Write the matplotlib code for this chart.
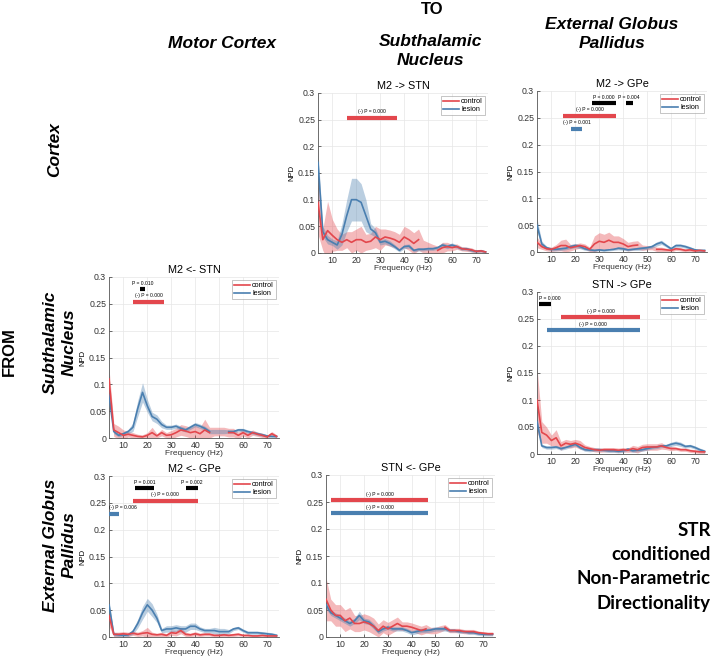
import numpy as np
import matplotlib
matplotlib.use("Agg")
import matplotlib.pyplot as plt

# ---------------- data ----------------
freq = [4, 6, 8, 10, 12, 14, 16, 18, 20, 22, 24, 26, 28, 30, 32, 34, 36, 38,
        40, 42, 44, 46, 48, 50, 52, 54, 56, 58, 60, 62, 64, 66, 68, 70, 72, 74]
notch = [48, 50, 52]

# M2 -> STN
m2_stn_ctrl = [0.095, 0.025, 0.042, 0.033, 0.025, 0.020, 0.025, 0.020, 0.025, 0.025, 0.020, 0.022,
               0.030, 0.025, 0.030, 0.028, 0.025, 0.020, 0.030, 0.025, 0.018, 0.025, 0.012, 0.010,
               0.008, 0.005, 0.010, 0.012, 0.010, 0.012, 0.008, 0.007, 0.006, 0.003, 0.004, 0.002]
m2_stn_ctrl_sem = [0.060, 0.020, 0.055, 0.030, 0.020, 0.015, 0.015, 0.020, 0.020, 0.025, 0.015, 0.015,
                   0.020, 0.020, 0.015, 0.015, 0.015, 0.015, 0.020, 0.020, 0.020, 0.020, 0.012, 0.010,
                   0.008, 0.008, 0.010, 0.008, 0.006, 0.005, 0.004, 0.004, 0.004, 0.003, 0.003, 0.002]
m2_stn_les = [0.170, 0.040, 0.025, 0.020, 0.015, 0.035, 0.070, 0.100, 0.100, 0.095, 0.070, 0.045,
              0.038, 0.020, 0.022, 0.018, 0.012, 0.005, 0.012, 0.013, 0.005, 0.007, 0.007, 0.008,
              0.008, 0.010, 0.015, 0.012, 0.015, 0.012, 0.008, 0.008, 0.005, 0.003, 0.004, 0.002]
m2_stn_les_sem = [0.020, 0.010, 0.008, 0.006, 0.008, 0.020, 0.030, 0.040, 0.040, 0.035, 0.030, 0.010,
                  0.008, 0.005, 0.005, 0.005, 0.004, 0.003, 0.004, 0.004, 0.003, 0.003, 0.003, 0.003,
                  0.003, 0.003, 0.004, 0.004, 0.004, 0.003, 0.003, 0.003, 0.003, 0.002, 0.002, 0.002]

# M2 -> GPe
m2_gpe_ctrl = [0.018, 0.010, 0.006, 0.005, 0.008, 0.012, 0.012, 0.008, 0.010, 0.012, 0.010, 0.005,
               0.015, 0.020, 0.018, 0.022, 0.018, 0.018, 0.015, 0.010, 0.012, 0.013, 0.008, 0.008,
               0.008, 0.005, 0.005, 0.004, 0.003, 0.006, 0.005, 0.003, 0.004, 0.002, 0.003, 0.002]
m2_gpe_ctrl_sem = [0.010, 0.005, 0.004, 0.004, 0.006, 0.010, 0.012, 0.006, 0.005, 0.005, 0.005, 0.004,
                   0.015, 0.016, 0.015, 0.015, 0.012, 0.012, 0.010, 0.008, 0.008, 0.008, 0.005, 0.004,
                   0.004, 0.004, 0.004, 0.003, 0.003, 0.003, 0.003, 0.003, 0.003, 0.002, 0.002, 0.002]
m2_gpe_les = [0.050, 0.015, 0.008, 0.005, 0.005, 0.006, 0.007, 0.010, 0.012, 0.010, 0.006, 0.004,
              0.003, 0.004, 0.003, 0.004, 0.005, 0.007, 0.006, 0.004, 0.005, 0.006, 0.007, 0.008,
              0.010, 0.015, 0.018, 0.012, 0.006, 0.012, 0.012, 0.010, 0.007, 0.004, 0.003, 0.003]
m2_gpe_les_sem = [0.012, 0.005, 0.003, 0.003, 0.003, 0.003, 0.003, 0.004, 0.004, 0.004, 0.003, 0.002,
                  0.002, 0.002, 0.002, 0.002, 0.002, 0.003, 0.003, 0.002, 0.002, 0.003, 0.003, 0.003,
                  0.003, 0.004, 0.004, 0.003, 0.003, 0.003, 0.003, 0.003, 0.003, 0.002, 0.002, 0.002]

# M2 <- STN
stn_m2_ctrl = [0.110, 0.015, 0.010, 0.005, 0.007, 0.005, 0.003, 0.002, 0.005, 0.010, 0.004, 0.010,
               0.005, 0.006, 0.010, 0.015, 0.013, 0.010, 0.012, 0.008, 0.015, 0.010, 0.012, 0.012,
               0.012, 0.010, 0.010, 0.005, 0.010, 0.005, 0.010, 0.007, 0.005, 0.002, 0.008, 0.003]
stn_m2_ctrl_sem = [0.020, 0.012, 0.012, 0.010, 0.005, 0.005, 0.004, 0.004, 0.005, 0.010, 0.004, 0.006,
                   0.005, 0.008, 0.008, 0.010, 0.010, 0.010, 0.012, 0.012, 0.020, 0.010, 0.008, 0.008,
                   0.008, 0.008, 0.008, 0.006, 0.006, 0.005, 0.005, 0.004, 0.004, 0.003, 0.004, 0.003]
stn_m2_les = [0.080, 0.012, 0.005, 0.008, 0.012, 0.020, 0.055, 0.085, 0.060, 0.040, 0.035, 0.025,
              0.020, 0.020, 0.022, 0.018, 0.015, 0.020, 0.025, 0.022, 0.018, 0.012, 0.012, 0.012,
              0.012, 0.012, 0.012, 0.015, 0.015, 0.012, 0.010, 0.008, 0.006, 0.004, 0.003, 0.003]
stn_m2_les_sem = [0.010, 0.004, 0.003, 0.003, 0.004, 0.008, 0.015, 0.018, 0.012, 0.008, 0.008, 0.006,
                  0.004, 0.004, 0.004, 0.004, 0.004, 0.004, 0.004, 0.004, 0.004, 0.004, 0.004, 0.004,
                  0.004, 0.003, 0.003, 0.003, 0.003, 0.003, 0.003, 0.003, 0.003, 0.002, 0.002, 0.002]

# STN -> GPe
stn_gpe_ctrl = [0.100, 0.040, 0.035, 0.025, 0.030, 0.015, 0.020, 0.018, 0.020, 0.017, 0.012, 0.010,
                0.008, 0.007, 0.008, 0.008, 0.008, 0.007, 0.008, 0.007, 0.010, 0.008, 0.012, 0.013,
                0.013, 0.013, 0.015, 0.012, 0.010, 0.010, 0.008, 0.008, 0.006, 0.005, 0.004, 0.004]
stn_gpe_ctrl_sem = [0.060, 0.020, 0.015, 0.010, 0.015, 0.008, 0.007, 0.007, 0.007, 0.008, 0.005, 0.004,
                    0.004, 0.004, 0.004, 0.004, 0.004, 0.004, 0.004, 0.004, 0.006, 0.006, 0.006, 0.006,
                    0.006, 0.006, 0.006, 0.004, 0.004, 0.003, 0.003, 0.003, 0.003, 0.003, 0.003, 0.003]
stn_gpe_les = [0.060, 0.015, 0.012, 0.012, 0.013, 0.010, 0.012, 0.015, 0.018, 0.012, 0.008, 0.007,
               0.008, 0.008, 0.007, 0.006, 0.006, 0.005, 0.006, 0.009, 0.006, 0.007, 0.008, 0.010,
               0.012, 0.013, 0.015, 0.015, 0.018, 0.020, 0.018, 0.014, 0.015, 0.012, 0.008, 0.005]
stn_gpe_les_sem = [0.010, 0.003, 0.003, 0.003, 0.003, 0.003, 0.003, 0.003, 0.003, 0.003, 0.003, 0.003,
                   0.003, 0.003, 0.003, 0.003, 0.003, 0.003, 0.003, 0.003, 0.003, 0.003, 0.003, 0.003,
                   0.003, 0.003, 0.003, 0.003, 0.004, 0.004, 0.004, 0.003, 0.003, 0.003, 0.003, 0.003]

# M2 <- GPe
gpe_m2_ctrl = [0.040, 0.005, 0.005, 0.006, 0.005, 0.007, 0.005, 0.007, 0.008, 0.005, 0.004, 0.005,
               0.003, 0.008, 0.007, 0.012, 0.005, 0.004, 0.006, 0.004, 0.005, 0.005, 0.003, 0.003,
               0.004, 0.003, 0.004, 0.005, 0.003, 0.003, 0.002, 0.002, 0.003, 0.002, 0.002, 0.002]
gpe_m2_ctrl_sem = [0.020, 0.004, 0.004, 0.004, 0.004, 0.004, 0.004, 0.005, 0.010, 0.004, 0.003, 0.004,
                   0.003, 0.005, 0.005, 0.006, 0.004, 0.003, 0.004, 0.003, 0.003, 0.003, 0.003, 0.003,
                   0.003, 0.003, 0.003, 0.003, 0.002, 0.002, 0.002, 0.002, 0.002, 0.002, 0.002, 0.002]
gpe_m2_les = [0.060, 0.005, 0.004, 0.003, 0.004, 0.010, 0.025, 0.045, 0.060, 0.050, 0.035, 0.012,
              0.015, 0.015, 0.017, 0.015, 0.015, 0.020, 0.020, 0.015, 0.012, 0.012, 0.012, 0.010,
              0.010, 0.010, 0.015, 0.017, 0.012, 0.008, 0.008, 0.008, 0.007, 0.006, 0.005, 0.003]
gpe_m2_les_sem = [0.010, 0.003, 0.003, 0.003, 0.003, 0.005, 0.008, 0.012, 0.012, 0.012, 0.008, 0.004,
                  0.006, 0.006, 0.006, 0.006, 0.006, 0.006, 0.006, 0.004, 0.004, 0.004, 0.006, 0.006,
                  0.006, 0.004, 0.003, 0.003, 0.003, 0.003, 0.003, 0.003, 0.003, 0.003, 0.003, 0.003]

# STN <- GPe
gpe_stn_ctrl = [0.070, 0.050, 0.040, 0.040, 0.030, 0.035, 0.025, 0.025, 0.028, 0.025, 0.020, 0.012,
                0.020, 0.015, 0.020, 0.025, 0.020, 0.020, 0.018, 0.015, 0.012, 0.015, 0.012, 0.012,
                0.015, 0.018, 0.012, 0.012, 0.012, 0.010, 0.010, 0.010, 0.008, 0.007, 0.006, 0.006]
gpe_stn_ctrl_sem = [0.040, 0.020, 0.020, 0.020, 0.020, 0.020, 0.015, 0.015, 0.015, 0.015, 0.015, 0.012,
                    0.012, 0.012, 0.012, 0.012, 0.008, 0.008, 0.008, 0.008, 0.008, 0.008, 0.006, 0.006,
                    0.006, 0.005, 0.004, 0.004, 0.004, 0.004, 0.004, 0.004, 0.003, 0.003, 0.003, 0.003]
gpe_stn_les = [0.060, 0.045, 0.040, 0.035, 0.030, 0.025, 0.030, 0.040, 0.030, 0.028, 0.020, 0.010,
               0.015, 0.018, 0.015, 0.015, 0.015, 0.012, 0.008, 0.010, 0.012, 0.012, 0.013, 0.015,
               0.015, 0.015, 0.012, 0.012, 0.010, 0.010, 0.008, 0.008, 0.006, 0.005, 0.005, 0.005]
gpe_stn_les_sem = [0.008, 0.005, 0.005, 0.005, 0.005, 0.005, 0.005, 0.008, 0.005, 0.005, 0.005, 0.004,
                   0.004, 0.004, 0.004, 0.004, 0.004, 0.004, 0.004, 0.004, 0.004, 0.004, 0.004, 0.004,
                   0.004, 0.004, 0.003, 0.003, 0.003, 0.003, 0.003, 0.003, 0.003, 0.003, 0.003, 0.003]

# significance bars: (f_start, f_end, level, kind, label)
sig_m2_stn = [(16, 37, 0.254, "ctrl", "(-) P = 0.000")]
sig_m2_gpe = [(27, 37, 0.278, "diff", "P = 0.000"), (41, 44, 0.278, "diff", "P = 0.004"),
              (15, 37, 0.254, "ctrl", "(-) P = 0.000"), (18, 23, 0.230, "les", "(-) P = 0.001")]
sig_stn_m2 = [(17, 19, 0.278, "diff", "P = 0.010"), (14, 27, 0.254, "ctrl", "(-) P = 0.000")]
sig_stn_gpe = [(5, 10, 0.278, "diff", "P = 0.000"), (14, 47, 0.254, "ctrl", "(-) P = 0.000"),
               (8, 47, 0.230, "les", "(-) P = 0.000")]
sig_gpe_m2 = [(15, 23, 0.278, "diff", "P = 0.001"), (36, 41, 0.278, "diff", "P = 0.002"),
              (14, 41, 0.254, "ctrl", "(-) P = 0.000"), (4, 8, 0.230, "les", "(-) P = 0.006")]
sig_gpe_stn = [(6, 47, 0.254, "ctrl", "(-) P = 0.000"), (6, 47, 0.230, "les", "(-) P = 0.000")]

# ---------------- style ----------------
C_CTRL = "#e3474d"
C_LES = "#4a7fb0"
BAR_COL = {"ctrl": C_CTRL, "les": C_LES, "diff": "black"}
FONT = "Liberation Sans"

W, H = 713, 659
fig = plt.figure(figsize=(W / 100, H / 100), dpi=100)
fig.patch.set_facecolor("white")


def px_axes(x0, x1, ytop, ybot):
    return fig.add_axes([x0 / W, 1 - ybot / H, (x1 - x0) / W, (ybot - ytop) / H])


def panel(rect, title, ctrl, ctrl_sem, les, les_sem, sigs, notch_ctrl, notch_les):
    ax = px_axes(*rect)
    f = np.array(freq, float)
    c = np.array(ctrl); cs = np.array(ctrl_sem)
    l = np.array(les); ls = np.array(les_sem)
    ax.fill_between(f, c - cs, c + cs, color=C_CTRL, alpha=0.38, lw=0, zorder=2)
    ax.fill_between(f, l - ls, l + ls, color=C_LES, alpha=0.38, lw=0, zorder=2)
    cm = c.copy(); lm = l.copy()
    mask = np.isin(f, notch)
    if notch_ctrl:
        cm[mask] = np.nan
    if notch_les:
        lm[mask] = np.nan
    ax.plot(f, lm, color=C_LES, lw=1.2, label="lesion", zorder=3)
    ax.plot(f, cm, color=C_CTRL, lw=1.2, label="control", zorder=4)
    for (a, b, lev, kind, lab) in sigs:
        ax.plot([a, b], [lev, lev], color=BAR_COL[kind], lw=3.0, solid_capstyle="butt", zorder=5)
        if (a + b) / 2 - 4 < 7:
            ax.text(a, lev + 0.006, lab, fontsize=3.6, ha="left", va="bottom",
                    family=FONT, zorder=5)
        else:
            ax.text((a + b) / 2, lev + 0.006, lab, fontsize=3.6, ha="center", va="bottom",
                    family=FONT, zorder=5)
    ax.set_xlim(4, 75)
    ax.set_ylim(0, 0.3)
    ax.set_xticks([10, 20, 30, 40, 50, 60, 70])
    ax.set_yticks([0, 0.05, 0.1, 0.15, 0.2, 0.25, 0.3])
    ax.set_yticklabels(["0", "0.05", "0.1", "0.15", "0.2", "0.25", "0.3"])
    ax.tick_params(labelsize=6.3, direction="in", length=2, width=0.5, colors="#333333",
                   pad=2)
    for lab in ax.get_xticklabels() + ax.get_yticklabels():
        lab.set_family(FONT)
    ax.grid(True, color="#e6e6e6", lw=0.5, zorder=0)
    ax.set_axisbelow(True)
    for s in ["top", "right"]:
        ax.spines[s].set_visible(False)
    for s in ["left", "bottom"]:
        ax.spines[s].set_color("#555555")
        ax.spines[s].set_linewidth(0.6)
    ax.set_title(title, fontsize=7.8, family=FONT, pad=3)
    ax.set_ylabel("NPD", fontsize=5.5, family=FONT, labelpad=2)
    ax.set_xlabel("Frequency (Hz)", fontsize=6.0, family=FONT, labelpad=0.5, color="#333333")
    h, lb = ax.get_legend_handles_labels()
    leg = ax.legend([h[1], h[0]], [lb[1], lb[0]], loc="upper right",
                    frameon=True, fancybox=False, handlelength=2.2, handletextpad=0.3,
                    borderpad=0.3, labelspacing=0.15, borderaxespad=0.4,
                    prop={"family": FONT, "size": 5.2})
    leg.get_frame().set_edgecolor("#999999")
    leg.get_frame().set_linewidth(0.5)
    return ax


panel((318, 488, 93, 253), "M2 -> STN", m2_stn_ctrl, m2_stn_ctrl_sem, m2_stn_les, m2_stn_les_sem,
      sig_m2_stn, True, False)
panel((537, 707, 91, 252), "M2 -> GPe", m2_gpe_ctrl, m2_gpe_ctrl_sem, m2_gpe_les, m2_gpe_les_sem,
      sig_m2_gpe, True, False)
panel((109, 279, 277, 438), "M2 <- STN", stn_m2_ctrl, stn_m2_ctrl_sem, stn_m2_les, stn_m2_les_sem,
      sig_stn_m2, True, True)
panel((537, 707, 292, 454), "STN -> GPe", stn_gpe_ctrl, stn_gpe_ctrl_sem, stn_gpe_les, stn_gpe_les_sem,
      sig_stn_gpe, False, False)
panel((109, 279, 476, 637), "M2 <- GPe", gpe_m2_ctrl, gpe_m2_ctrl_sem, gpe_m2_les, gpe_m2_les_sem,
      sig_gpe_m2, False, False)
panel((326, 495, 475, 637), "STN <- GPe", gpe_stn_ctrl, gpe_stn_ctrl_sem, gpe_stn_les, gpe_stn_les_sem,
      sig_gpe_stn, True, False)

# ---------------- headers ----------------
def ftext(x, y, s, **kw):
    fig.text(x / W, 1 - y / H, s, **kw)

hdr = dict(family=FONT, fontsize=12.5, fontweight="bold", fontstyle="italic",
           ha="center", va="center", linespacing=1.3)
ftext(432, 10, "TO", family=FONT, fontsize=12, fontweight="bold", ha="center", va="center")
ftext(222, 43, "Motor Cortex", **hdr)
ftext(430, 51, "Subthalamic\nNucleus", **hdr)
ftext(612, 34, "External Globus\nPallidus", **hdr)

ftext(9, 352, "FROM", family=FONT, fontsize=12, fontweight="bold", ha="center", va="center",
      rotation=90)
ftext(55, 150, "Cortex", rotation=90, **hdr)
ftext(60, 342, "Subthalamic\nNucleus", rotation=90, **hdr)
ftext(60, 545, "External Globus\nPallidus", rotation=90, **hdr)

fig.text(711 / W, 1 - 567 / H, "STR\nconditioned\nNon-Parametric\nDirectionality",
         family="Lato", fontsize=13.5, fontweight="bold", ha="right", va="center",
         linespacing=1.5)

fig.savefig("out.png", dpi=100, facecolor="white")
